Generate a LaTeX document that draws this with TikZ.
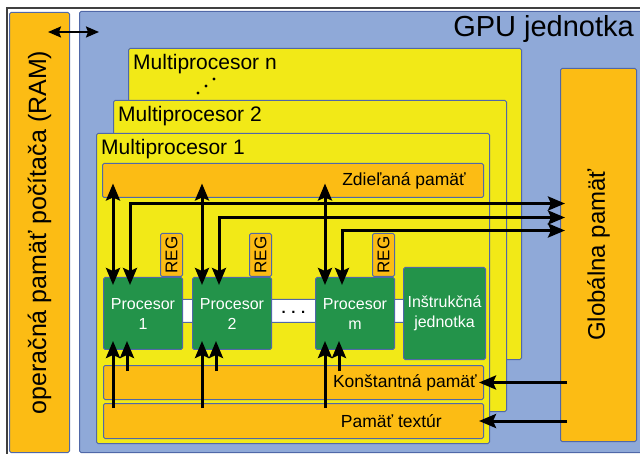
\documentclass[tikz,border=0pt]{standalone}
\usepackage{fontspec}
\setmainfont{Liberation Sans}
\usepackage{tikz}
\usetikzlibrary{positioning, calc, arrows.meta}
\definecolor{memorange}{HTML}{FCBC14}
\definecolor{mpyellow}{HTML}{F2E917}
\definecolor{gpublue}{HTML}{8FA9D8}
\definecolor{procgreen}{HTML}{23934A}
\definecolor{edgeblue}{HTML}{5068A8}
\newcommand{\fsz}[1]{\fontsize{#1}{#1}\selectfont}

\begin{document}
\begin{tikzpicture}[x=1pt, y=-1pt,
    box/.style={draw=edgeblue, line width=1pt, rounded corners=1.5pt, anchor=north west, inner sep=0pt},
    mem/.style={box, fill=memorange},
    mproc/.style={box, fill=mpyellow, minimum width=393pt, minimum height=311pt},
    proc/.style={box, fill=procgreen, minimum width=79pt, minimum height=72pt, text=white, align=center, font=\fontsize{16}{20}\selectfont},
    reg/.style={mem, minimum width=22pt, minimum height=43pt, anchor=south east},
    memtext/.style={inner sep=0pt, font=\fsz{17.5}},
    mptext/.style={inner sep=0pt, anchor=base west, font=\fsz{21}},
    dbl/.style={line width=3pt, {Stealth[length=17pt, width=14pt, inset=3pt]}-{Stealth[length=17pt, width=14pt, inset=3pt]}},
    arr/.style={line width=3pt, -{Stealth[length=17pt, width=14pt, inset=3pt]}},
  ]
  \clip (0,0) rectangle (640,454);
  % frame
  \draw[line width=1.2pt, black!75] (7,454) -- (7,8) -- (640,8);
  % RAM and GPU
  \node[mem, minimum width=60pt, minimum height=440pt] (ram) at (9,12) {};
  \node[box, fill=gpublue, minimum width=580pt, minimum height=441pt] (gpu) at (79,11) {};
  \node[mem, minimum width=76pt, minimum height=373pt] (global) at (560,68) {};
  % multiprocessors
  \node[mproc] (mpn) at (128,48) {};
  \node[mproc] (mptwo) at (113,100) {};
  \node[mproc, minimum height=310pt] (mpone) at (96,133) {};
  % memories inside multiprocessor 1
  \node[mem, minimum width=381pt, minimum height=34pt] (shared) at (102,163) {};
  \node[mem, minimum width=380pt, minimum height=34pt] (konst) at (103,365) {};
  \node[mem, minimum width=380pt, minimum height=35pt] (tex) at (103,403) {};
  % bus behind processors
  \node[box, fill=white, minimum width=226pt, minimum height=23pt] (bus) at (178,299) {};
  % processors
  \node[proc] (pone) at (103,277) {Procesor\\1};
  \node[proc, right=9pt of pone] (ptwo) {Procesor\\2};
  \node[proc, right=43pt of ptwo] (pm) {Procesor\\m};
  \node[proc, right=8pt of pm, minimum width=82pt, minimum height=92pt] (instr) {Inštrukčná\\jednotka};
  \node[anchor=base, inner sep=0pt, font=\fsz{15}\bfseries] (dots) at ($(ptwo.east)!0.5!(pm.west)$) {. . .};
  % registers
  \foreach \p/\r in {pone/regone, ptwo/regtwo, pm/regm} {
    \node[reg] (\r) at (\p.north east) {};
    \node[rotate=90, inner sep=0pt, font=\fsz{17}] at (\r.center) {REG};
  }
  % arrows to shared, global, constant and texture memory
  \foreach \p/\dy in {pone/51.5, ptwo/37.5, pm/24.5} {
    \draw[dbl] ([xshift=10pt, yshift=-8pt]\p.north west) -- ([xshift=10pt, yshift=-3pt]\p.north west |- shared.center);
    \draw[dbl] ([xshift=27pt, yshift=-8pt]\p.north west) |- ([xshift=5pt, yshift=\dy pt]global.west);
    \draw[arr] ([xshift=10pt, yshift=-5pt]\p.south west |- tex.north) -- ([xshift=10pt, yshift=9pt]\p.south west);
    \draw[arr] ([xshift=24pt, yshift=-6pt]\p.south west |- konst.north) -- ([xshift=24pt, yshift=9pt]\p.south west);
  }
  \draw[arr] ([xshift=7pt]global.west |- konst.center) -- ([xshift=-5pt]konst.east);
  \draw[arr] ([xshift=7pt]global.west |- tex.center) -- ([xshift=-5pt]tex.east);
  \draw[line width=2pt, {Stealth[length=13pt, width=11pt, inset=2pt]}-{Stealth[length=13pt, width=11pt, inset=2pt]}]
    ([xshift=-22pt, yshift=-20pt]ram.north east) -- ([xshift=20pt, yshift=-21pt]gpu.north west);
  % dots between multiprocessors
  \foreach \x/\y in {198/93, 206/86, 214/79} {
    \fill (\x,\y) circle (1.6pt);
  }
  % labels
  \node[rotate=90, font=\fsz{25}] (ramtxt) at (ram.center) {operačná pamäť počítača (RAM)};
  \node[rotate=90, font=\fsz{24}] (globaltxt) at (global.center) {Globálna pamäť};
  \node[anchor=base east, inner sep=0pt, font=\fsz{29}] (gputxt) at (634,37) {GPU jednotka};
  \node[mptext] at ([xshift=5pt, yshift=-22pt]mpn.north west) {Multiprocesor n};
  \node[mptext] at ([xshift=5pt, yshift=-22pt]mptwo.north west) {Multiprocesor 2};
  \node[mptext] at ([xshift=5pt, yshift=-22pt]mpone.north west) {Multiprocesor 1};
  \node[memtext, left=18pt of shared.east] {Zdieľaná pamäť};
  \node[memtext, left=7pt of konst.east] {Konštantná pamäť};
  \node[memtext, left=42pt of tex.east] {Pamäť textúr};
\end{tikzpicture}
\end{document}
